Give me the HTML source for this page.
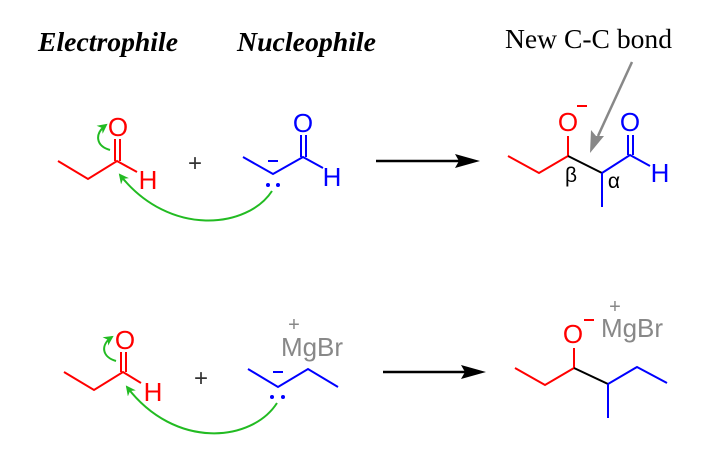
<!DOCTYPE html>
<html><head><meta charset="utf-8"><style>
html,body{margin:0;padding:0;background:#fff;}
svg{display:block;}
</style></head><body>
<svg width="723" height="456" viewBox="0 0 723 456" xmlns="http://www.w3.org/2000/svg">
<defs>
<marker id="g" viewBox="0 0 10 10" refX="8" refY="5" markerWidth="5" markerHeight="5" orient="auto"><path d="M0,0 L10,5 L0,10 L3,5 Z" fill="#22bb22"/></marker>
</defs>
<g font-family="Liberation Serif, serif" font-weight="bold" font-style="italic" font-size="27" fill="#000">
<text x="38" y="51" textLength="140" lengthAdjust="spacingAndGlyphs">Electrophile</text>
<text x="237" y="51" textLength="139" lengthAdjust="spacingAndGlyphs">Nucleophile</text>
</g>
<text x="505" y="48" font-family="Liberation Serif, serif" font-size="27" fill="#000" textLength="167" lengthAdjust="spacingAndGlyphs">New C-C bond</text>
<line x1="632" y1="62" x2="598" y2="136" stroke="#888" stroke-width="2.5"/>
<path d="M590,153 L591,130 L596,136 L604,136 Z" fill="#888"/>

<g font-family="Liberation Sans, sans-serif" font-size="26" text-anchor="middle">
<!-- top electrophile -->
<g stroke="#f00" stroke-width="2" fill="none">
<polyline points="58,161 88,179 117,161 137,172"/>
<line x1="115" y1="161" x2="115" y2="139"/><line x1="120" y1="161" x2="120" y2="139"/>
</g>
<text x="118" y="136" fill="#f00">O</text>
<text x="148" y="189" fill="#f00">H</text>
<text x="195" y="171" fill="#333" font-size="24">+</text>
<!-- top nucleophile -->
<g stroke="#00f" stroke-width="2" fill="none">
<polyline points="243,157 273,174 303,157 323,168"/>
<line x1="301" y1="157" x2="301" y2="135"/><line x1="306" y1="157" x2="306" y2="135"/>
</g>
<line x1="268" y1="161" x2="278" y2="161" stroke="#00f" stroke-width="2"/>
<circle cx="268" cy="185" r="2" fill="#00f"/><circle cx="278" cy="185" r="2" fill="#00f"/>
<text x="303" y="132" fill="#00f">O</text>
<text x="332" y="186" fill="#00f">H</text>
<!-- green arrows top -->
<path d="M110,150 C96,146 94,134 106,125" stroke="#22bb22" stroke-width="2" fill="none" marker-end="url(#g)"/>
<path d="M272,191 C248,228 170,238 120,175" stroke="#22bb22" stroke-width="2" fill="none" marker-end="url(#g)"/>
<!-- reaction arrow top -->
<line x1="376" y1="161" x2="460" y2="161" stroke="#000" stroke-width="2.5"/>
<path d="M480,161 L455,154 L459,161 L455,168 Z" fill="#000"/>
<!-- top product -->
<polyline points="508,156 539,173 568,156" stroke="#f00" stroke-width="2" fill="none"/>
<line x1="568" y1="156" x2="568" y2="136" stroke="#f00" stroke-width="2"/>
<text x="568" y="131" fill="#f00">O</text>
<line x1="577" y1="106" x2="587" y2="106" stroke="#f00" stroke-width="2"/>
<line x1="568" y1="156" x2="602" y2="173" stroke="#000" stroke-width="2"/>
<g stroke="#00f" stroke-width="2" fill="none">
<polyline points="602,173 630,155 650,166"/>
<line x1="602" y1="173" x2="602" y2="207"/>
<line x1="628" y1="155" x2="628" y2="135"/><line x1="633" y1="155" x2="633" y2="135"/>
</g>
<text x="630" y="131" fill="#00f">O</text>
<text x="660" y="182" fill="#00f">H</text>
<text x="571" y="182" fill="#000" font-size="21">β</text>
<text x="614" y="188" fill="#000" font-size="21">α</text>

<!-- bottom electrophile -->
<g stroke="#f00" stroke-width="2" fill="none">
<polyline points="64,372 94,390 123,372 141,383"/>
<line x1="121" y1="372" x2="121" y2="352"/><line x1="126" y1="372" x2="126" y2="352"/>
</g>
<text x="125" y="349" fill="#f00">O</text>
<text x="153" y="401" fill="#f00">H</text>
<text x="201" y="386" fill="#333" font-size="24">+</text>
<!-- bottom nucleophile -->
<polyline points="248,369 278,387 308,369 338,387" stroke="#00f" stroke-width="2" fill="none"/>
<line x1="273" y1="372" x2="283" y2="372" stroke="#00f" stroke-width="2"/>
<circle cx="272" cy="397" r="2" fill="#00f"/><circle cx="283" cy="397" r="2" fill="#00f"/>
<text x="312" y="356" fill="#888" font-size="26">MgBr</text>
<text x="294" y="331" fill="#888" font-size="20">+</text>
<path d="M116,361 C102,357 100,345 112,337" stroke="#22bb22" stroke-width="2" fill="none" marker-end="url(#g)"/>
<path d="M277,403 C252,442 175,450 127,387" stroke="#22bb22" stroke-width="2" fill="none" marker-end="url(#g)"/>
<!-- reaction arrow bottom -->
<line x1="383" y1="372" x2="465" y2="372" stroke="#000" stroke-width="2.5"/>
<path d="M486,372 L461,365 L465,372 L461,379 Z" fill="#000"/>
<!-- bottom product -->
<polyline points="515,368 545,385 574,368" stroke="#f00" stroke-width="2" fill="none"/>
<line x1="574" y1="368" x2="574" y2="348" stroke="#f00" stroke-width="2"/>
<text x="573" y="343" fill="#f00">O</text>
<line x1="584" y1="320" x2="594" y2="320" stroke="#f00" stroke-width="2"/>
<line x1="574" y1="368" x2="608" y2="384" stroke="#000" stroke-width="2"/>
<g stroke="#00f" stroke-width="2" fill="none">
<polyline points="608,384 637,367 667,383"/>
<line x1="608" y1="384" x2="608" y2="418"/>
</g>
<text x="632" y="337" fill="#888" font-size="26">MgBr</text>
<text x="615" y="313" fill="#888" font-size="20">+</text>
</g>
</svg>
</body></html>
